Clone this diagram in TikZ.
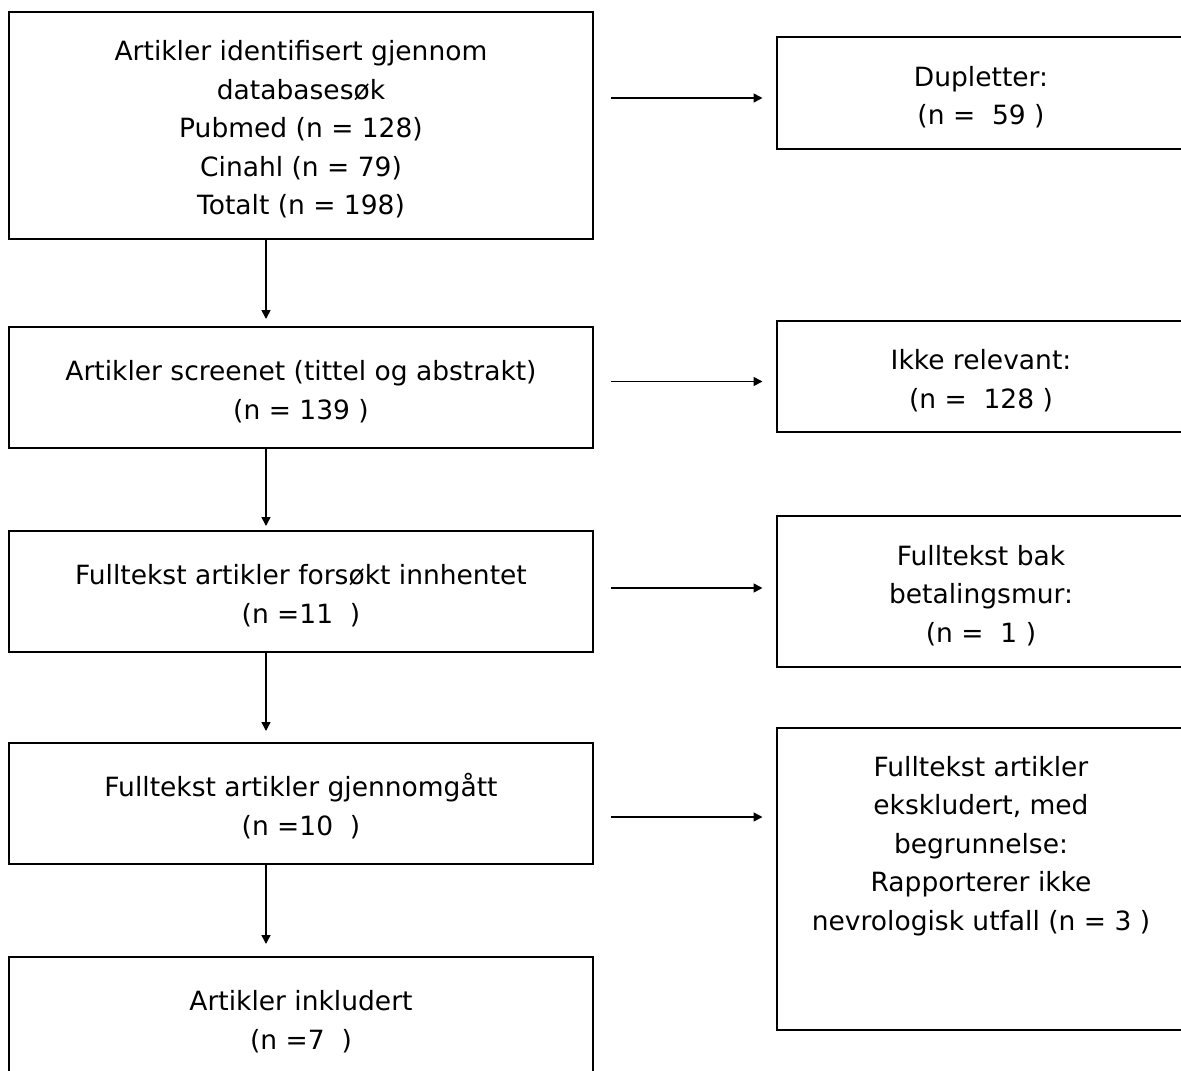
\documentclass[tikz,border=0pt]{standalone}
\usepackage{fontspec}
\setmainfont{DejaVu Sans}
\usetikzlibrary{arrows.meta}
\newcommand\toppad{\rule{0pt}{28pt}}
\begin{document}
\begin{tikzpicture}[x=1pt,y=-1pt,
  box/.style={draw=black, line width=2pt, rectangle, inner sep=0pt, outer sep=0pt,
    anchor=north west, align=center, font=\fontsize{26.5}{38.5}\selectfont},
  txt/.style={align=center, inner sep=0pt, font=\fontsize{26.5}{38.5}\selectfont},
  arr/.style={draw=black, line width=1.6pt, -{Triangle[length=9pt,width=9pt]}}
]
\useasboundingbox (0,0) rectangle (1181,1071);
\clip (0,0) rectangle (1181,1071);
\fill[white] (0,0) rectangle (1181,1071);

% left column
\node[box, minimum width=584pt, minimum height=227pt] (b1) at (9,12)
  {\toppad Artikler identifisert gjennom\\databasesøk\\Pubmed (n = 128)\\Cinahl (n = 79)\\Totalt (n = 198)};
\node[box, minimum width=584pt, minimum height=121pt] (b2) at (9,327)
  {\toppad Artikler screenet (tittel og abstrakt)\\(n = 139 )};
\node[box, minimum width=584pt, minimum height=121pt] (b3) at (9,531)
  {\toppad Fulltekst artikler forsøkt innhentet\\(n =11\ \ )};
\node[box, minimum width=584pt, minimum height=121pt] (b4) at (9,743)
  {\toppad Fulltekst artikler gjennomgått\\(n =10\ \ )};
\node[box, minimum width=584pt, minimum height=121pt] (b5) at (9,957)
  {\toppad Artikler inkludert\\(n =7\ \ )};

% right column
\node[box, minimum width=408pt, minimum height=112pt] (r1) at (777,37)
  {\toppad Dupletter:\\(n =\ \ 59 )};
\node[box, minimum width=408pt, minimum height=111pt] (r2) at (777,321)
  {\toppad Ikke relevant:\\(n =\ \ 128 )};
\node[box, minimum width=408pt, minimum height=151pt] (r3) at (777,516)
  {\toppad Fulltekst bak\\betalingsmur:\\(n =\ \ 1 )};
\node[box, minimum width=408pt, minimum height=302pt] (r4) at (777,728) {};
\node[txt] (r4t) at (981,846)
  {Fulltekst artikler\\ekskludert, med\\begrunnelse:\\Rapporterer ikke\\nevrologisk utfall (n = 3 )};

% connector guides
\coordinate (ax) at (266,0);
\coordinate (h1) at (0,98);
\coordinate (h2) at (0,381.5);
\coordinate (h3) at (0,588);
\coordinate (h4) at (0,817);

% vertical arrows
\draw[arr, shorten >=8pt] (ax |- b1.south) -- (ax |- b2.north);
\draw[arr, shorten >=5pt] (ax |- b2.south) -- (ax |- b3.north);
\draw[arr, shorten >=12pt] (ax |- b3.south) -- (ax |- b4.north);
\draw[arr, shorten >=13pt] (ax |- b4.south) -- (ax |- b5.north);

% horizontal arrows
\draw[arr, shorten <=17.5pt, shorten >=14.5pt] (b1.east |- h1) -- (r1.west |- h1);
\draw[arr, shorten <=17.5pt, shorten >=14.5pt] (b2.east |- h2) -- (r2.west |- h2);
\draw[arr, shorten <=17.5pt, shorten >=14.5pt] (b3.east |- h3) -- (r3.west |- h3);
\draw[arr, shorten <=17.5pt, shorten >=14.5pt] (b4.east |- h4) -- (r4.west |- h4);
\end{tikzpicture}
\end{document}
